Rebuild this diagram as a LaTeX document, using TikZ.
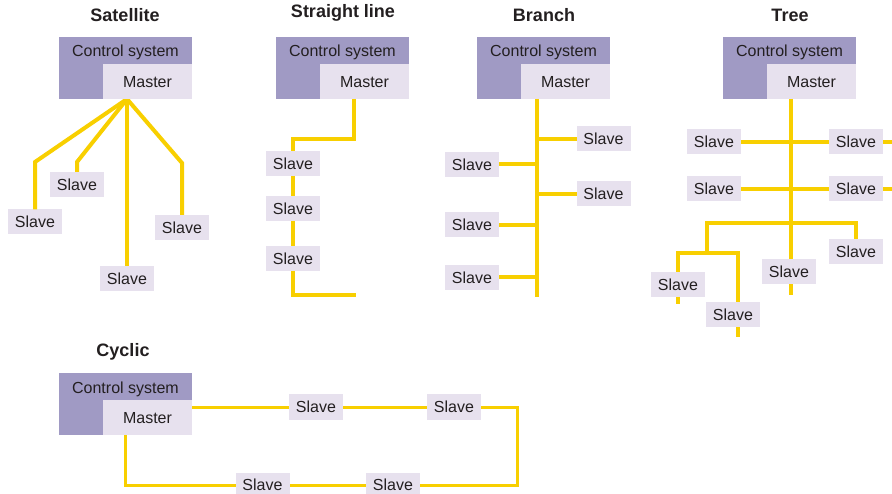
\documentclass[tikz,border=0pt]{standalone}
\usepackage{fontspec}
\setmainfont{Liberation Sans}
\definecolor{ctrlpurple}{RGB}{160,154,196}
\definecolor{masterlilac}{RGB}{231,225,238}
\definecolor{busyellow}{RGB}{248,207,0}
\definecolor{inkgray}{RGB}{35,31,32}
\begin{document}
\begin{tikzpicture}[x=1pt,y=-1pt,inner sep=0pt,outer sep=0pt,
every node/.style={text=inkgray},
ttl/.style={font=\fontsize{18}{20}\selectfont\bfseries,anchor=base},
ctrl/.style={fill=ctrlpurple,minimum width=133pt,minimum height=62pt,
  label={[font=\fontsize{16}{18}\selectfont,anchor=base,yshift=-20pt]north:Control system}},
master/.style={fill=masterlilac,minimum width=89pt,minimum height=35pt,anchor=south east,
  font=\fontsize{16}{18}\selectfont,text height=11.5pt,text depth=0pt},
slave/.style={fill=masterlilac,minimum width=54pt,minimum height=25pt,
  font=\fontsize{16}{18}\selectfont,text height=11.5pt,text depth=0pt},
bus/.style={draw=busyellow,line width=4pt},
ring/.style={bus,line width=3pt}]
\useasboundingbox (0,0) rectangle (892,494);

% satellite
\node[ttl] (T1) at (125,22) {Satellite};
\node[slave] (S1a) at (35,222) {Slave};
\node[slave] (S1b) at (77,184.5) {Slave};
\node[slave] (S1c) at (127,278.5) {Slave};
\node[slave] (S1d) at (182,227.5) {Slave};
\coordinate (J1) at (127,99);
\draw[bus] (J1) -- (35,162) -- (S1a.north);
\draw[bus] (J1) -- (77,162) -- (S1b.north);
\draw[bus] (J1) -- (S1c.north);
\draw[bus] (J1) -- (182,163) -- (S1d.north);
\node[ctrl] (C1) at (125.5,68) {};
\node[master] (M1) at (C1.south east) {Master};

% straight line
\node[ttl] (T2) at (343,18) {Straight line};
\node[ctrl] (C2) at (342.5,68) {};
\node[master] (M2) at (C2.south east) {Master};
\node[slave] (S2a) at (293,163.5) {Slave};
\node[slave] (S2b) at (293,208.5) {Slave};
\node[slave] (S2c) at (293,258.5) {Slave};
\coordinate (J2) at (354,99);
\coordinate (E2) at (356,295);
\draw[bus] (J2) -- (354,139) -| (S2a.north);
\draw[bus] (S2a) -- (S2b);
\draw[bus] (S2b) -- (S2c);
\draw[bus] (S2c) |- (E2);

% branch
\node[ttl] (T3) at (544,22) {Branch};
\node[ctrl] (C3) at (543.5,68) {};
\node[master] (M3) at (C3.south east) {Master};
\node[slave] (S3a) at (603.5,139) {Slave};
\node[slave] (S3b) at (603.5,194) {Slave};
\node[slave] (S3c) at (472,164.5) {Slave};
\node[slave] (S3d) at (472,225) {Slave};
\node[slave] (S3e) at (472,277.5) {Slave};
\coordinate (J3) at (537,99);
\coordinate (E3) at (537,297);
\draw[bus] (J3) -- (E3);
\foreach \s in {S3a,S3b,S3c,S3d,S3e}
  \draw[bus] (\s) -- (\s -| J3);

% tree
\node[ttl] (T4) at (790,22) {Tree};
\node[ctrl] (C4) at (789.5,68) {};
\node[master] (M4) at (C4.south east) {Master};
\node[slave] (S4a) at (714,142) {Slave};
\node[slave] (S4b) at (856,142) {Slave};
\node[slave] (S4c) at (714,189) {Slave};
\node[slave] (S4d) at (856,189) {Slave};
\node[slave] (S4e) at (789,272) {Slave};
\node[slave] (S4f) at (856,251.5) {Slave};
\node[slave] (S4g) at (678,284.5) {Slave};
\node[slave] (S4h) at (733,315) {Slave};
\coordinate (J4) at (791,99);
\coordinate (E4) at (791,295);
\coordinate (R4a) at (892,142);
\coordinate (R4b) at (892,189);
\coordinate (B4) at (707,223);
\coordinate (B4r) at (738,253);
\coordinate (E4g) at (678,304);
\coordinate (E4h) at (738,337);
\draw[bus] (J4) -- (J4 |- S4e.north);
\draw[bus] (S4e.south -| J4) -- (E4);
\draw[bus] (S4a) -- (S4b) -- (R4a);
\draw[bus] (S4c) -- (S4d) -- (R4b);
\draw[bus] (S4f.north) |- (B4) -- (B4 |- B4r);
\draw[bus] (S4g.north) |- (B4r) -- (S4h.north -| B4r);
\draw[bus] (S4g.south) -- (E4g);
\draw[bus] (S4h.south -| E4h) -- (E4h);

% cyclic
\node[ttl] (T5) at (123,356) {Cyclic};
\node[ctrl] (C5) at (125.5,404) {};
\node[master] (M5) at (C5.south east) {Master};
\node[slave] (S5a) at (316,407) {Slave};
\node[slave] (S5b) at (454,407) {Slave};
\node[slave] (S5c) at (262.5,485) {Slave};
\node[slave] (S5d) at (393,485) {Slave};
\coordinate (J5a) at (192,407);
\coordinate (J5b) at (125,435);
\coordinate (K5) at (517,485);
\draw[ring] (J5a) -- (S5a);
\draw[ring] (S5a) -- (S5b);
\draw[ring] (S5b) -| (K5) -- (S5d);
\draw[ring] (S5d) -- (S5c);
\draw[ring] (S5c) -| (J5b);
\end{tikzpicture}
\end{document}
